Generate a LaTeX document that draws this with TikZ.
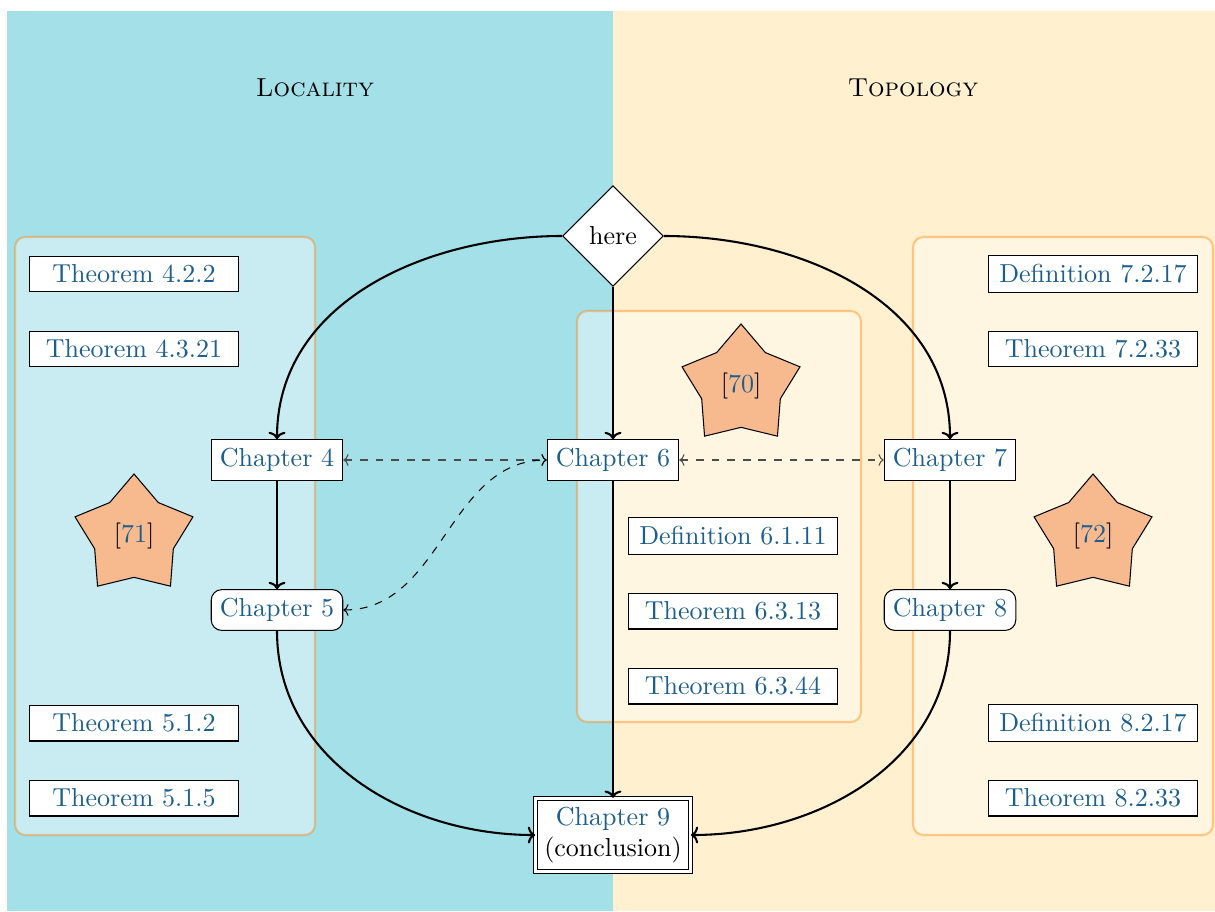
\documentclass[tikz,border=0pt]{standalone}
\usetikzlibrary{shapes.geometric,arrows.meta}
\definecolor{linkblue}{RGB}{28,94,140}
\definecolor{bgL}{RGB}{164,224,232}
\definecolor{bgR}{RGB}{255,240,208}
\definecolor{starfill}{RGB}{247,186,143}
\definecolor{grpline}{RGB}{255,128,0}
\begin{document}
\begin{tikzpicture}[x=0.3846pt,y=-0.3846pt,
  refbox/.style={draw, fill=white, text=linkblue, minimum width=80.4pt},
  chap/.style={draw, fill=white, text=linkblue},
  chapr/.style={chap, rounded corners=4pt},
  cite/.style={star, star points=5, draw, fill=starfill, minimum size=47.7pt, inner sep=0pt},
  group/.style={draw=grpline, draw opacity=0.4, fill=white, fill opacity=0.4, rounded corners=4pt, line width=0.8pt},
  conn/.style={-{To[width=6.5pt,length=2.8pt]}, thick},
  dconn/.style={{To[width=4.5pt,length=2pt]}-{To[width=4.5pt,length=2pt]}, dashed}
]
\useasboundingbox (0,0) rectangle (1215,911);
\fill[bgL] (7,11) rectangle (613,911);
\fill[bgR] (613,11) rectangle (1215,911);
\node (loc) at (315,88) {\textsc{Locality}};
\node (top) at (913,88) {\textsc{Topology}};
% groups
\path[group] (15,237) rectangle (315,835);
\path[group] (913,237) rectangle (1213,835);
\path[group] (577,311) rectangle (861,722);
% nodes
\node[diamond, draw, fill=white] (here) at (613,236) {here};
\node[refbox] (t422) at (134,274) {Theorem 4.2.2};
\node[refbox] (t4321) at (134,349) {Theorem 4.3.21};
\node[cite] (c71) at (134,536) {[\textcolor{linkblue}{71}]};
\node[refbox] (t512) at (134,723) {Theorem 5.1.2};
\node[refbox] (t515) at (134,798) {Theorem 5.1.5};
\node[chap] (ch4) at (277,460) {Chapter 4};
\node[chapr] (ch5) at (277,610) {Chapter 5};
\node[chap] (ch6) at (613,460) {Chapter 6};
\node[chap] (ch7) at (950,460) {Chapter 7};
\node[chapr] (ch8) at (950,610) {Chapter 8};
\node[draw, double, double distance=1pt, fill=white, align=center] (ch9) at (613,835) {\textcolor{linkblue}{Chapter 9}\\(conclusion)};
\node[cite] (c70) at (741,386) {[\textcolor{linkblue}{70}]};
\node[refbox] (d6111) at (733,536) {Definition 6.1.11};
\node[refbox] (t6313) at (733,611) {Theorem 6.3.13};
\node[refbox] (t6344) at (733,686) {Theorem 6.3.44};
\node[refbox] (d7217) at (1093,274) {Definition 7.2.17};
\node[refbox] (t7233) at (1093,349) {Theorem 7.2.33};
\node[cite] (c72) at (1093,536) {[\textcolor{linkblue}{72}]};
\node[refbox] (d8217) at (1093,723) {Definition 8.2.17};
\node[refbox] (t8233) at (1093,798) {Theorem 8.2.33};
% connectors
\draw[conn] (here.west) to[out=180,in=90] (ch4.north);
\draw[conn] (here.east) to[out=0,in=90] (ch7.north);
\draw[conn] (here.south) -- (ch6.north);
\draw[conn] (ch4) -- (ch5);
\draw[conn] (ch7) -- (ch8);
\draw[conn] (ch6) -- (ch9);
\draw[conn] (ch5.south) to[out=-90,in=180] (ch9.west);
\draw[conn] (ch8.south) to[out=-90,in=0] (ch9.east);
\draw[dconn, black!70] (ch4) -- (ch6);
\draw[dconn, black!70] (ch6) -- (ch7);
\draw[dconn] (ch5.east) to[out=0,in=180] (ch6.west);
\end{tikzpicture}
\end{document}
